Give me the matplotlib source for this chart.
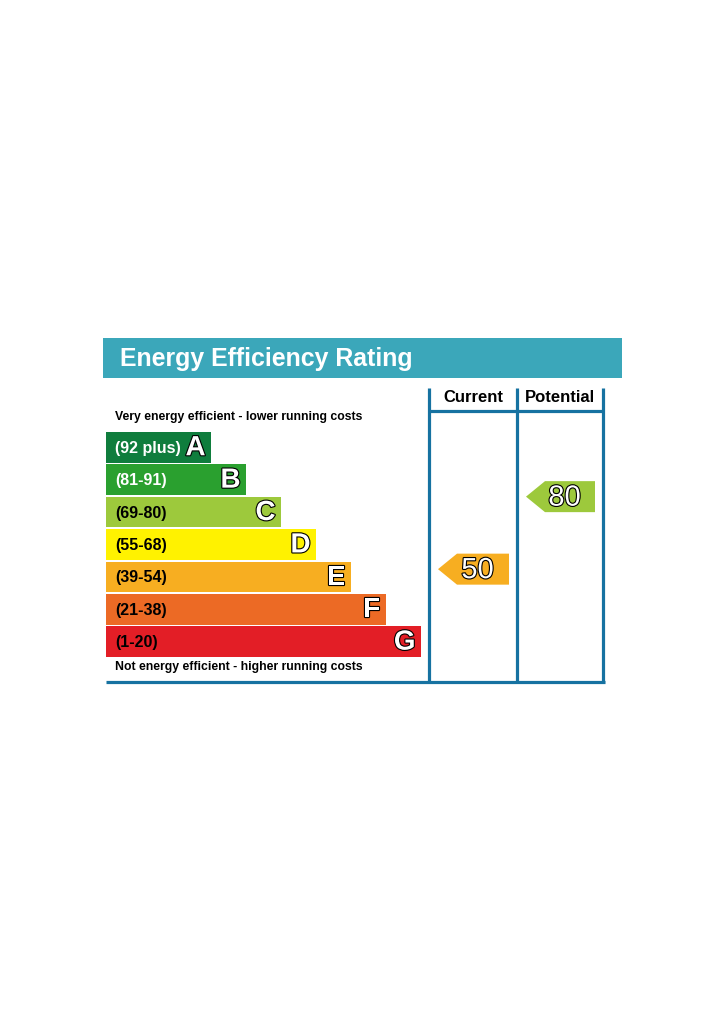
import matplotlib
matplotlib.use("Agg")
import matplotlib.pyplot as plt
import matplotlib.patheffects as pe
from matplotlib.patches import Rectangle, Polygon

# ---- data ----
letters = ["A", "B", "C", "D", "E", "F", "G"]
ranges = ["(92 plus)", "(81-91)", "(69-80)", "(55-68)", "(39-54)", "(21-38)", "(1-20)"]
band_colors = ["#0f7d3d", "#2aa02f", "#9dc93c", "#fff200", "#f7ae21", "#ec6a25", "#e31e26"]
label_colors = ["white", "white", "black", "black", "black", "black", "black"]
title = "Energy Efficiency Rating"
top_note = "Very energy efficient - lower running costs"
bottom_note = "Not energy efficient - higher running costs"
columns = ["Current", "Potential"]
ratings = [50, 80]
rating_colors = ["#f7ae21", "#9dc93c"]

FONT = "Liberation Sans"
frame_c = "#1672a1"

fig = plt.figure(figsize=(7.24, 10.24), dpi=100)
ax = fig.add_axes([0, 0, 1, 1])
ax.set_xlim(0, 724)
ax.set_ylim(1024, 0)
ax.axis("off")

# header band
ax.add_patch(Rectangle((103, 338), 519, 40, facecolor="#3ba7ba", edgecolor="none"))
ax.text(120, 359, title, color="white", fontsize=17.9, fontweight="bold",
        family=FONT, va="center", ha="left")

outline = [pe.Stroke(linewidth=1.6, foreground="black"), pe.Normal()]

# bars
bar_left = 106
bar_top0 = 432
pitch = 32.4
bar_h = 30.5
y_centers = [bar_top0 + i * pitch + bar_h / 2 for i in range(len(letters))]
widths = [105 + 35 * i for i in range(len(letters))]
ax.barh(y_centers, widths, height=bar_h, left=bar_left, color=band_colors,
        edgecolor="none")
for i, (let, rng) in enumerate(zip(letters, ranges)):
    yc = y_centers[i]
    ax.text(115, yc + 1, rng, color=label_colors[i], fontsize=11.5,
            fontweight="bold", family=FONT, va="center", ha="left")
    t = ax.text(bar_left + widths[i] - 5.5, yc + 1, let, color="white", fontsize=20,
                fontweight="bold", family=FONT, va="center", ha="right")
    t.set_path_effects(outline)

ax.text(115, 417, top_note, color="black", fontsize=8.85, fontweight="bold",
        family=FONT, va="center", ha="left")
ax.text(115, 667, bottom_note, color="black", fontsize=8.85, fontweight="bold",
        family=FONT, va="center", ha="left")

# frame
lw = 2.3
col_x = [429, 517, 603]
for x in col_x:
    ax.plot([x, x], [388, 683], color=frame_c, lw=lw, solid_capstyle="butt")
ax.plot([col_x[0], col_x[2]], [411, 411], color=frame_c, lw=lw, solid_capstyle="butt")
ax.plot([106, 604.5], [682, 682], color=frame_c, lw=lw, solid_capstyle="butt")

for j, name in enumerate(columns):
    xc = (col_x[j] + col_x[j + 1]) / 2
    ax.text(xc, 398, name, color="black", fontsize=12, fontweight="bold",
            family=FONT, va="center", ha="center")

# rating arrows (value -> vertical position)
def value_to_y(v):
    return 690.0 - 2.417 * v

arrow_h = 31
for j, (val, c) in enumerate(zip(ratings, rating_colors)):
    x0 = col_x[j] + 9
    x1 = col_x[j + 1] - 8
    yc = value_to_y(val)
    pts = [(x0, yc), (x0 + 19, yc - arrow_h / 2), (x1, yc - arrow_h / 2),
           (x1, yc + arrow_h / 2), (x0 + 19, yc + arrow_h / 2)]
    ax.add_patch(Polygon(pts, closed=True, facecolor=c, edgecolor="none"))
    t = ax.text((x0 + 19 + x1) / 2 - 5.5, yc + 1, str(val), color="white", fontsize=21,
                family=FONT, va="center", ha="center")
    t.set_path_effects(outline)

fig.savefig("out.png", dpi=100, facecolor="white")
